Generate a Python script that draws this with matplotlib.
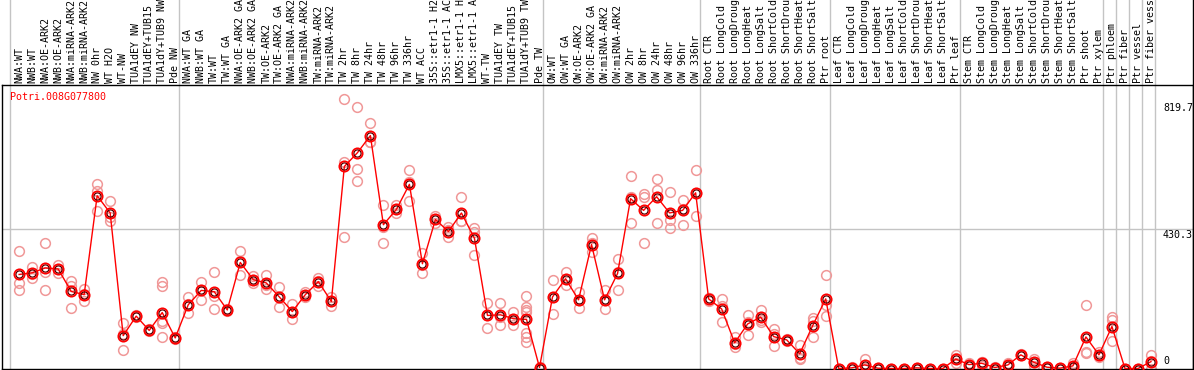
import matplotlib
matplotlib.use('Agg')
import matplotlib.pyplot as plt
from matplotlib.lines import Line2D
import matplotlib.transforms as mtransforms
import numpy as np

gene = 'Potri.008G077800'

# sample names, left to right
samples = [
    'NWA:WT', 'NWB:WT', 'NWA:OE-ARK2', 'NWB:OE-ARK2', 'NWA:miRNA-ARK2', 'NWB:miRNA-ARK2',
    'NW 0hr', 'WT H2O', 'WT-NW', 'TUA1dEY NW', 'TUA1dEY+TUB15 NW', 'TUA1dY+TUB9 NW', 'Pde NW',
    'NWA:WT GA', 'NWB:WT GA', 'TW:WT', 'TW:WT GA', 'NWA:OE-ARK2 GA', 'NWB:OE-ARK2 GA',
    'TW:OE-ARK2', 'TW:OE-ARK2 GA', 'NWA:miRNA-ARK2 GA', 'NWB:miRNA-ARK2 GA', 'TW:miRNA-ARK2',
    'TW:miRNA-ARK2 GA', 'TW 2hr', 'TW 8hr', 'TW 24hr', 'TW 48hr', 'TW 96hr', 'TW 336hr',
    'WT ACC', '35S::etr1-1 H2O', '35S::etr1-1 ACC', 'LMX5::etr1-1 H2O', 'LMX5::etr1-1 ACC',
    'WT-TW', 'TUA1dEY TW', 'TUA1dEY+TUB15 TW', 'TUA1dY+TUB9 TW', 'Pde TW',
    'OW:WT', 'OW:WT GA', 'OW:OE-ARK2', 'OW:OE-ARK2 GA', 'OW:miRNA-ARK2', 'OW:miRNA-ARK2 GA',
    'OW 2hr', 'OW 8hr', 'OW 24hr', 'OW 48hr', 'OW 96hr', 'OW 336hr',
    'Root CTR', 'Root LongCold', 'Root LongDrought', 'Root LongHeat', 'Root LongSalt',
    'Root ShortCold', 'Root ShortDrought', 'Root ShortHeat', 'Root ShortSalt', 'Ptr root',
    'Leaf CTR', 'Leaf LongCold', 'Leaf LongDrought', 'Leaf LongHeat', 'Leaf LongSalt',
    'Leaf ShortCold', 'Leaf ShortDrought', 'Leaf ShortHeat', 'Leaf ShortSalt', 'Ptr leaf',
    'Stem CTR', 'Stem LongCold', 'Stem LongDrought', 'Stem LongHeat', 'Stem LongSalt',
    'Stem ShortCold', 'Stem ShortDrought', 'Stem ShortHeat', 'Stem ShortSalt', 'Ptr shoot',
    'Ptr xylem', 'Ptr phloem', 'Ptr fiber', 'Ptr vessel', 'Ptr fiber vessel',
]

# number of samples in each block between grey separators
group_sizes = [13, 28, 12, 10, 10, 11, 1, 1, 1, 1]

# mean expression per sample
means = [
    289, 294, 309, 306, 237, 227, 531, 478, 101, 161, 117, 172, 94,
    196, 240, 236, 180, 326, 273, 263, 220, 175, 227, 267, 206, 621, 663, 716,
    442, 489, 566, 322, 458, 421, 478, 400, 163, 165, 153, 151, 3,
    220, 276, 211, 381, 211, 292, 522, 486, 528, 478, 486, 540,
    214, 183, 79, 137, 158, 98, 88, 45, 132, 214,
    0, 2, 11, 1, 0, 0, 2, 0, 0, 29,
    12, 16, 3, 11, 42, 19, 4, 1, 8, 97, 42,
    129, 0, 0, 21,
]

# replicate values per sample
reps = [
    [362, 262, 242], [313, 278, 291], [386, 298, 242], [319, 293, 306], [270, 255, 187],
    [243, 208, 230], [566, 545, 483], [516, 453, 466], [140, 57, 106], [165, 157, 161],
    [120, 114, 117], [267, 255, 147, 140, 96], [96, 92, 94],
    [220, 171, 197], [267, 211, 242], [297, 224, 183], [182, 178, 180], [360, 288, 330],
    [285, 262, 272], [288, 244, 257], [251, 190, 219], [199, 152, 174], [235, 220, 226],
    [278, 255, 268], [219, 191, 208], [829, 636, 403], [805, 614, 575], [755, 696, 697],
    [503, 386, 434], [501, 477, 489], [610, 515, 573], [356, 292, 318], [468, 448, 458],
    [434, 404, 425], [528, 452, 454], [431, 419, 349], [201, 125, 163], [201, 135, 159],
    [173, 135, 151], [222, 188, 180, 173, 110, 96, 81], [5, 2, 2],
    [273, 166, 221], [296, 257, 275], [235, 187, 211], [400, 357, 386], [240, 183, 210],
    [337, 242, 297], [592, 448, 526], [537, 527, 386], [583, 549, 448], [544, 457, 432],
    [518, 491, 442], [611, 469, 540],
    [217, 207, 218], [214, 144, 191], [96, 65, 76], [163, 104, 144], [180, 144, 150],
    [120, 69, 105], [90, 86, 88], [73, 30, 32], [155, 96, 145], [288, 196, 162],
    [0, 0, 0], [4, 1, 1], [29, 2, 2], [2, 1, 0], [0, 0, 0],
    [0, 0, 0], [3, 2, 1], [0, 0, 0], [0, 0, 0], [40, 16, 31],
    [17, 7, 12], [21, 7, 20], [4, 3, 2], [17, 8, 8], [44, 40, 42],
    [29, 21, 7], [5, 4, 3], [2, 1, 0], [17, 5, 2], [194, 50, 47], [50, 35, 41],
    [158, 150, 86], [0, 0, 0], [0, 0, 0], [40, 0, 23],
]

y_ticks = [0, 430.3, 819.7]
y_tick_labels = ['0', '430.3', '819.7']

W, H = 1194, 370
fig = plt.figure(figsize=(W / 100, H / 100), dpi=100)

# plot box in pixels
px_left, px_right, px_top, px_bottom = 1.5, 1193, 85, 368.5
step = 13.01
x0_px = 10  # first separator
ax = fig.add_axes([px_left / W, 1 - px_bottom / H, (px_right - px_left) / W, (px_bottom - px_top) / H])
ax.set_xlim(-(x0_px - px_left) / step, (px_right - x0_px) / step)
ax.set_ylim(0, (px_bottom - px_top) * 3.0736)
ax.set_xticks([])
ax.set_yticks([])
for s in ax.spines.values():
    s.set_color('black')
    s.set_linewidth(1)

mono = 'DejaVu Sans Mono'
xs = np.arange(len(samples)) + 0.7

# grey separators across the whole figure height
bounds = np.concatenate([[0], np.cumsum(group_sizes)])
trans = mtransforms.blended_transform_factory(ax.transData, fig.transFigure)
for b in bounds:
    ax.plot([b, b], [0, 1], transform=trans, color='#c4c4c4', lw=1, clip_on=False, zorder=0)
fig.add_artist(Line2D([px_right / W, px_right / W], [0, 1], color='black', lw=1))

ax.axhline(y_ticks[1], color='#c4c4c4', lw=1, zorder=0)

# replicates
for x, r in zip(xs, reps):
    ax.plot([x] * len(r), r, 'o', ms=7, mfc='none', mec='#f09898', mew=1.1, clip_on=False, zorder=2)

# mean line and markers
ax.plot(xs, means, color='red', lw=1, zorder=3, clip_on=False)
ax.plot(xs, means, 'o', ms=5.2, mfc='none', mec='#500000', mew=0.9, zorder=4, clip_on=False)
ax.plot(xs, means, 'o', ms=7.4, mfc='none', mec='red', mew=1.3, zorder=5, clip_on=False)

# sample labels, rotated, above the plot
for x, name in zip(xs, samples):
    ax.text(x, 1 - 83 / H, name, transform=trans, rotation=90, ha='center', va='bottom',
            fontsize=7.2, family=mono, color='black')

fig.text(10 / W, 1 - 97 / H, gene, color='red', fontsize=7.2, family=mono, va='center', ha='left')

# value labels on the right
lab_x = (1163 - px_left) / (px_right - px_left)
ytrans = mtransforms.blended_transform_factory(ax.transAxes, ax.transData)
for v, t in zip(y_ticks, y_tick_labels):
    if v == 0:
        ax.text(lab_x, v, t, transform=ytrans, ha='left', va='bottom', fontsize=7.2, family=mono,
                bbox=None).set_y(v + 8)
    else:
        ax.text(lab_x, v - 4, t, transform=ytrans, ha='left', va='top', fontsize=7.2, family=mono)

fig.savefig('out.png', dpi=100)
